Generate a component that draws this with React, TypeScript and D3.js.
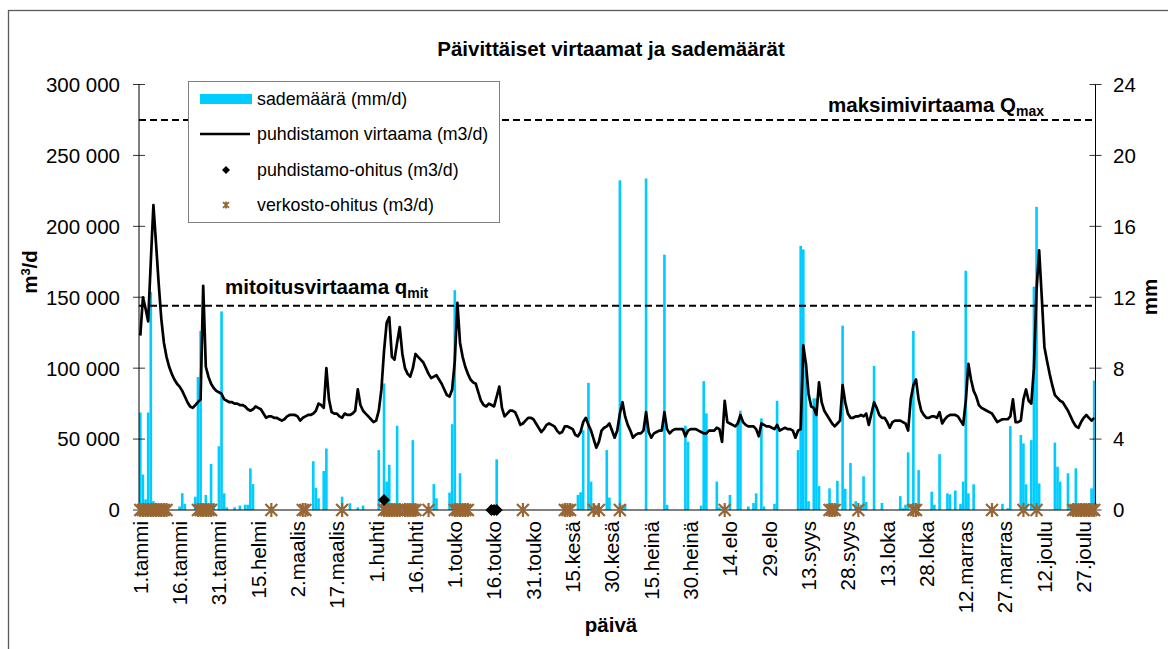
import React from 'react';
import * as d3 from 'd3';

// ---- data (flow in 1000 m3/d, rain in mm/d), one array per month ----
const flowJan = [123,150,142,133,175,215,188,160,135,118,108,101,96,92,89,87,84,80,76,73,72,74,76,78,158,101,94,89,86,84,83];
const flowFeb = [82,78,77,76,76,75,75,74,74,73,71,70,71,73,72,71,68,65,66,66,65,65,64,63,64,66,67,67];
const flowMar = [67,66,63,65,66,67,67,68,70,75,74,72,100,78,69,68,68,66,65,68,67,67,68,70,85,74,70,68,66,64,62];
const flowApr = [63,70,85,112,132,136,108,106,118,129,110,100,96,94,100,110,108,106,104,100,96,93,94,95,92,89,85,81,80,85];
const flowMay = [105,146,118,108,101,96,92,90,89,83,77,74,73,75,74,73,80,87,72,66,68,70,70,69,65,60,61,63,65,65,64];
const flowJun = [61,58,55,57,60,61,60,59,56,54,55,59,59,58,57,53,52,55,62,65,60,56,50,44,48,56,58,59,61,56];
const flowJul = [51,56,68,76,66,60,56,51,53,54,54,56,69,55,51,54,55,56,56,69,57,54,56,57,57,57,57,52,56,57,57];
const flowAug = [57,56,55,54,54,56,56,56,58,57,48,77,62,61,60,59,61,67,62,60,59,59,59,57,52,61,60,59,59,58,57];
const flowSep = [60,56,57,58,57,57,56,51,56,57,116,103,82,73,72,67,90,76,70,67,64,61,59,61,63,88,76,68,65,65];
const flowOct = [66,66,67,66,68,60,68,76,72,67,65,65,62,58,62,63,63,63,62,61,56,78,88,92,78,70,67,65,65,66,66];
const flowNov = [65,69,61,64,66,67,67,67,66,63,60,77,103,92,84,80,74,72,71,70,69,68,65,62,63,64,64,64,66,78];
const flowDec = [62,62,63,78,85,77,75,100,155,183,150,115,105,96,88,81,79,77,76,73,70,66,62,59,58,62,65,67,65,63,65];

const rainJan = [5.5,2.0,0.6,5.5,12.3,0.5,0.4,0,0,0,0,0,0,0,0,0.2,0.95,0.35,0,0,0,0.75,7.5,10.1,0,0.85,0,2.6,0.4,0,3.6];
const rainFeb = [11.2,0.94,0.15,0,0,0.15,0,0.25,0,0.3,0.3,2.35,1.46,0,0,0,0,0,0,0,0,0,0,0,0,0,0,0];
const rainMar = [0,0,0,0,0,0,0,2.75,1.25,0.66,0,2.2,3.47,0,0,0,0,0,0.75,0,0,0.38,0,0,0.15,0,0.25,0,0,0,0];
const rainApr = [0,3.38,0,7.14,1.6,2.55,0,0,4.75,0,0,0,0,0,3.94,0,0,0,0,0,0,0,1.46,0.66,0,0,0,0,0.98,4.84];
const rainMay = [12.4,0,2.07,0,0,0,0,0,0,0,0,0,0,0,0,0,2.86,0,0,0,0,0,0,0,0,0,0,0,0,0,0];
const rainJun = [0,0,0,0,0,0,0,0,0,0,0,0,0,0,0,0,0.85,1.0,4.5,0,7.17,1.6,0,0,0,0,0,3.38,0.7,0];
const rainJul = [0,0,18.6,0.3,0.3,0,0,0,0,0,0,0,18.7,0,0,0,0,0,0,14.4,0.3,0,0,0,0,0,0,4.75,3.85,0,0];
const rainAug = [0,0,0.25,7.27,5.45,0,0,0,1.6,0.15,0,0,0,0.85,0,0,5.0,5.6,0,0,0.2,0,0.4,0.94,0,5.17,0.2,0,0,0,0.35];
const rainSep = [6.16,0,0,0,0,0,0,0,3.38,14.9,14.7,8.3,0.5,0,6.3,6.3,1.35,0,0,0,1.22,0,0,1.65,0,10.4,1.2,0,2.65,0];
const rainOct = [0.5,0,0.3,1.9,0.45,0,0,8.13,0,0,0.4,0,0,0,0,0,0,0.78,0.1,0.3,3.25,0,10.1,0,2.25,0,0,0,0,1.03,0.3];
const rainNov = [0,3.15,0,0,0.94,0.88,0,1.1,0,0.35,1.6,13.5,0.94,0,1.45,0,0,0,0,0,0,0,0,0,0,0.35,0,0.1,4.73,0];
const rainDec = [0,0,4.23,3.76,1.45,0,3.94,12.6,17.1,1.5,0,0,0,0,0,3.8,2.44,1.6,0,0,2.07,0.2,0,2.35,0,0,0,0,0,1.22,7.3];

// bypass events (day of year, value in 1000 m3/d)
const networkBypassDays = [1,2,3,4,5,6,7,8,9,10,11,23,24,25,26,27,28,51,63,64,78,94,95,96,97,98,99,100,102,103,104,105,106,111,121,122,123,124,125,126,147,163,164,165,174,176,184,224,264,265,266,275,296,297,326,338,343,357,358,359,360,361,362,363,364,365];
const plantBypassDays = [94,135,136,137];
const plantBypassValues = [7,0,0,0];

const tickDays = [1,16,31,46,61,76,91,106,121,136,151,166,181,196,211,226,241,256,271,286,301,316,331,346,361];
const tickLabels = ['1.tammi','16.tammi','31.tammi','15.helmi','2.maalis','17.maalis','1.huhti','16.huhti','1.touko','16.touko','31.touko','15.kesä','30.kesä','15.heinä','30.heinä','14.elo','29.elo','13.syys','28.syys','13.loka','28.loka','12.marras','27.marras','12.joulu','27.joulu'];
const leftTicks = [0,50,100,150,200,250,300];
const rightTicks = [0,4,8,12,16,20,24];
const qMax = 275;
const qMit = 144;

const legendLabels = ['sademäärä (mm/d)','puhdistamon virtaama (m3/d)','puhdistamo-ohitus (m3/d)','verkosto-ohitus (m3/d)'];

const FONT = "'Liberation Sans', Arial, sans-serif";
const CYAN = '#00CCFF';
const BROWN = '#996633';

function starPath(cx: number, cy: number, r: number) {
  const a = r * 0.85;
  return `M${cx},${cy - r}L${cx},${cy + r}M${cx - a},${cy - a}L${cx + a},${cy + a}M${cx - a},${cy + a}L${cx + a},${cy - a}`;
}
function diamondPath(cx: number, cy: number, r: number) {
  return `M${cx},${cy - r}L${cx + r},${cy}L${cx},${cy + r}L${cx - r},${cy}Z`;
}

export default function App() {
  const flow = [...flowJan, ...flowFeb, ...flowMar, ...flowApr, ...flowMay, ...flowJun, ...flowJul, ...flowAug, ...flowSep, ...flowOct, ...flowNov, ...flowDec];
  const rain = [...rainJan, ...rainFeb, ...rainMar, ...rainApr, ...rainMay, ...rainJun, ...rainJul, ...rainAug, ...rainSep, ...rainOct, ...rainNov, ...rainDec];
  const days = d3.range(1, flow.length + 1);

  const left = 139, right = 1095.5, top = 84.5, bottom = 510;
  const x = d3.scaleBand<number>().domain(days).range([left, right]).padding(0);
  const bw = x.bandwidth();
  const cx = (d: number) => (x(d) ?? 0) + bw / 2;
  const yL = d3.scaleLinear().domain([0, 300]).range([bottom, top]);
  const yR = d3.scaleLinear().domain([0, 24]).range([bottom, top]);
  const fmt = (v: number) => d3.format(',')(v * 1000).replace(/,/g, ' ');
  const lineGen = d3.line<number>().x((_, i) => cx(days[i])).y((v) => yL(v));

  const legX = 188.5, legY = 81.5, legW = 311, legH = 141;
  const legRows = [99, 134, 170, 205];

  return (
    <svg width={1168} height={649} style={{ position: 'absolute', left: 0, top: 0, background: '#fff' }} fontFamily={FONT}>
      <rect x={0} y={0} width={1168} height={649} fill="#fff" />
      <rect x={8.5} y={10.5} width={1300} height={800} fill="none" stroke="#5a5a5a" strokeWidth={1.3} />

      {/* title */}
      <text x={611} y={56} textAnchor="middle" fontSize={20.5} fontWeight="bold">Päivittäiset virtaamat ja sademäärät</text>

      {/* rain bars */}
      <g>
        {days.map((d, i) => rain[i] > 0 ? (
          <rect key={d} x={x(d)} y={yR(rain[i])} width={bw} height={bottom - yR(rain[i])} fill={CYAN} />
        ) : null)}
      </g>

      {/* reference lines */}
      <line x1={left} x2={right} y1={yL(qMax)} y2={yL(qMax)} stroke="#000" strokeWidth={2} strokeDasharray="7 4" />
      <line x1={left} x2={right} y1={yL(qMit)} y2={yL(qMit)} stroke="#000" strokeWidth={2} strokeDasharray="7 4" />

      {/* flow line */}
      <path d={lineGen(flow) ?? ''} fill="none" stroke="#000" strokeWidth={2.7} strokeLinejoin="round" />

      {/* axes */}
      <line x1={left} x2={left} y1={top} y2={bottom} stroke="#000" strokeWidth={1} />
      <line x1={right} x2={right} y1={top} y2={bottom} stroke="#000" strokeWidth={1} />
      <line x1={left} x2={right} y1={bottom} y2={bottom} stroke="#000" strokeWidth={1.2} />
      {leftTicks.map((t) => (
        <g key={'l' + t}>
          <line x1={left - 6} x2={left + 6} y1={yL(t)} y2={yL(t)} stroke="#000" strokeWidth={0.8} />
          <text x={120} y={yL(t)} dy="0.36em" textAnchor="end" fontSize={20.5}>{fmt(t)}</text>
        </g>
      ))}
      {rightTicks.map((t) => (
        <g key={'r' + t}>
          <line x1={right - 6} x2={right + 6} y1={yR(t)} y2={yR(t)} stroke="#000" strokeWidth={0.8} />
          <text x={1113} y={yR(t)} dy="0.36em" textAnchor="start" fontSize={20.5}>{t}</text>
        </g>
      ))}
      {tickDays.map((d, i) => (
        <text key={'x' + d} transform={`translate(${cx(d)},${521}) rotate(-90)`} dy="0.36em" textAnchor="end" fontSize={20.5}>{tickLabels[i]}</text>
      ))}

      {/* markers */}
      <g>
        {networkBypassDays.map((d) => (
          <path key={'s' + d} d={starPath(cx(d), yL(0), 7)} stroke={BROWN} strokeWidth={2.2} fill="none" />
        ))}
        {plantBypassDays.map((d, i) => (
          <path key={'p' + d} d={diamondPath(cx(d), yL(plantBypassValues[i]), 6)} fill="#000" />
        ))}
      </g>

      {/* axis titles */}
      <text x={611} y={632} textAnchor="middle" fontSize={20.5} fontWeight="bold">päivä</text>
      <text transform={`translate(30,272) rotate(-90)`} dy="0.36em" textAnchor="middle" fontSize={20.5} fontWeight="bold">
        m<tspan fontSize={13} dy="-7">3</tspan><tspan dy="7">/d</tspan>
      </text>
      <text transform={`translate(1150,297) rotate(-90)`} dy="0.36em" textAnchor="middle" fontSize={20.5} fontWeight="bold">mm</text>

      {/* reference labels */}
      <text x={828} y={112} fontSize={20.5} fontWeight="bold">maksimivirtaama Q<tspan fontSize={14} dy="4">max</tspan></text>
      <text x={225} y={294} fontSize={20.5} fontWeight="bold">mitoitusvirtaama q<tspan fontSize={14} dy="4">mit</tspan></text>

      {/* legend */}
      <rect x={legX} y={legY} width={legW} height={legH} fill="#fff" stroke="#808080" strokeWidth={1} />
      <rect x={200} y={legRows[0] - 5} width={52} height={10} fill={CYAN} />
      <line x1={200} x2={250} y1={legRows[1]} y2={legRows[1]} stroke="#000" strokeWidth={2.6} />
      <path d={diamondPath(226, legRows[2], 4)} fill="#000" />
      <path d={starPath(226, legRows[3], 3.5)} stroke={BROWN} strokeWidth={1.8} fill="none" />
      {legendLabels.map((l, i) => (
        <text key={l} x={257} y={legRows[i]} dy="0.36em" fontSize={17.8}>{l}</text>
      ))}
    </svg>
  );
}
